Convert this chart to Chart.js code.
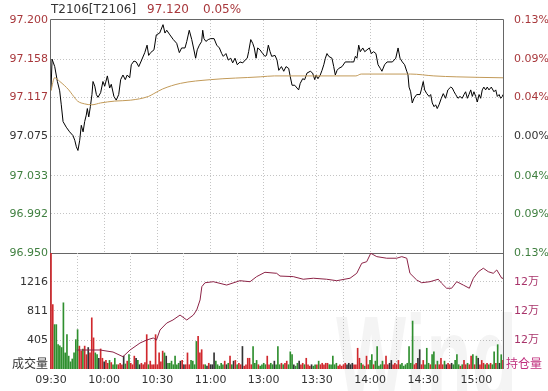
<!DOCTYPE html>
<html>
<head>
<meta charset="utf-8">
<script src="https://cdn.jsdelivr.net/npm/chart.js@4.4.0/dist/chart.umd.min.js"></script>
<style>
  body { margin: 0; background: #fff; width: 548px; height: 391px; overflow: hidden; position: relative; }
  canvas { position: absolute; left: 0; }
  #priceChart { top: 0; }
  #volChart { top: 240px; }
  .txt { position: absolute; font: 12px "DejaVu Sans", "Noto Sans CJK SC", sans-serif; line-height: 16px; white-space: nowrap; }
</style>
</head>
<body>
<canvas id="priceChart" width="548" height="270" style="width:548px;height:270px"></canvas>
<canvas id="volChart" width="548" height="151" style="width:548px;height:151px"></canvas>
<div class="txt" style="left:51px;top:1px;color:#333">T2106[T2106]</div>
<div class="txt" style="left:147px;top:1px;color:#a8383c">97.120</div>
<div class="txt" style="left:203px;top:1px;color:#a8383c">0.05%</div>
<div class="txt" style="left:0;width:48px;text-align:right;top:355px;color:#333;font-family:'Noto Sans CJK SC'">成交量</div>
<div class="txt" style="left:506px;top:355px;color:#c0307e;font-family:'Noto Sans CJK SC'">持仓量</div>
<script>
// minutes since 09:30 (11:30 and 13:00 share one slot)
const timeTicks = [0, 30, 60, 90, 120, 150, 180, 210, 240];
const timeLabels = ['09:30', '10:00', '10:30', '11:00', '13:00', '13:30', '14:00', '14:30', '15:00'];
const preClose = 97.075;
const priceTicks = [96.950, 96.992, 97.033, 97.075, 97.117, 97.158, 97.200];

// [minute, price]
const pricePoints = [
  [0,97.125],[0.6,97.158],[2.1,97.150],[3.6,97.134],[4.9,97.124],[5.8,97.109],[6.8,97.091],[8.6,97.085],
  [10.5,97.080],[12.4,97.076],[13.4,97.071],[14.3,97.064],[15.2,97.060],[16.2,97.071],[17.1,97.087],[18.1,97.080],
  [19,97.091],[19.9,97.098],[20.5,97.105],[21.3,97.096],[22.2,97.107],[23.1,97.120],[23.7,97.134],[24.7,97.129],
  [25.6,97.120],[26.5,97.117],[28,97.122],[29.3,97.134],[30.3,97.129],[31.8,97.140],[33.1,97.127],[34,97.131],
  [35.5,97.118],[36.8,97.114],[38.2,97.120],[39.3,97.136],[40.6,97.141],[41.9,97.136],[43,97.141],[44.4,97.138],
  [45.3,97.152],[46.8,97.156],[48.1,97.155],[49.5,97.150],[50.9,97.156],[52.9,97.165],[54.2,97.173],[55.1,97.162],
  [56.2,97.165],[58.1,97.168],[59.4,97.184],[61.3,97.186],[63.2,97.195],[64.3,97.186],[65.3,97.189],[67.1,97.184],
  [69,97.179],[70.9,97.175],[72.4,97.165],[73.7,97.170],[75.6,97.170],[76.6,97.177],[78,97.189],[79.4,97.179],
  [80.3,97.171],[81.6,97.159],[82.5,97.168],[83.7,97.173],[85,97.177],[85.6,97.189],[86.3,97.180],[87.4,97.177],
  [88.7,97.179],[90.1,97.180],[92,97.180],[93.5,97.173],[95,97.170],[96.3,97.164],[97.2,97.161],[98.7,97.164],
  [100,97.157],[101.4,97.159],[102.5,97.154],[103.8,97.159],[105.1,97.152],[106.6,97.155],[108.2,97.154],[109.5,97.157],
  [110.7,97.159],[111.5,97.166],[112.7,97.179],[113.8,97.175],[114.7,97.170],[115.7,97.159],[116.6,97.170],[117.9,97.168],
  [119.4,97.164],[120.7,97.161],[121.6,97.162],[122.6,97.173],[123.6,97.166],[124.5,97.161],[126.4,97.162],[127.5,97.157],
  [128.5,97.146],[130,97.150],[131.3,97.145],[132.6,97.150],[134.1,97.148],[135,97.139],[136,97.130],[137.5,97.130],
  [138.8,97.127],[139.7,97.125],[140.6,97.132],[142,97.137],[143.1,97.136],[144.4,97.143],[146.3,97.145],[147.6,97.143],
  [148.8,97.136],[149.5,97.141],[150.6,97.137],[151.9,97.141],[152.9,97.146],[153.9,97.152],[154.8,97.159],[155.7,97.164],
  [156.7,97.161],[158.5,97.159],[159.5,97.150],[160.4,97.141],[161.4,97.146],[162.3,97.148],[164.2,97.150],[166,97.155],
  [168.9,97.155],[170.8,97.155],[171.7,97.161],[172.6,97.159],[173.6,97.173],[174.5,97.166],[175.9,97.170],[177,97.166],
  [178.3,97.168],[179.6,97.170],[180.7,97.164],[182,97.166],[183.3,97.164],[184.5,97.152],[185.8,97.148],[186.7,97.145],
  [188.2,97.152],[189.6,97.155],[192.6,97.155],[194.5,97.159],[195.8,97.170],[196.9,97.159],[198.2,97.155],[199.5,97.152],
  [200.7,97.145],[201.4,97.141],[202,97.128],[202.9,97.123],[203.8,97.111],[204.8,97.116],[206.3,97.120],[208.2,97.120],
  [208.9,97.125],[210,97.134],[210.8,97.125],[212,97.121],[213.3,97.118],[214.2,97.120],[215.1,97.111],[216.1,97.107],
  [217,97.109],[217.9,97.105],[218.9,97.109],[220.2,97.116],[221.3,97.121],[222.6,97.116],[223.9,97.125],[225.5,97.128],
  [226.4,97.127],[227.4,97.123],[228.3,97.120],[229.6,97.116],[230.7,97.118],[232,97.116],[233,97.120],[233.9,97.123],
  [234.9,97.116],[235.8,97.120],[236.8,97.125],[237.7,97.118],[238.6,97.123],[239.6,97.118],[240.5,97.112],[241.5,97.120],
  [242.4,97.116],[243.3,97.125],[244.2,97.128],[245.2,97.125],[246.1,97.128],[247.1,97.125],[248.4,97.128],[249.9,97.123],
  [250.9,97.125],[251.8,97.118],[252.8,97.120],[253.7,97.116],[254.6,97.118],[255,97.120]
];

// [minute, average price]
const avgPoints = [
  [0,97.124],[2,97.138],[5,97.134],[10,97.125],[12,97.120],[15,97.113],[19,97.110],[23,97.109],[28,97.111],
  [36,97.113],[45,97.114],[55,97.118],[58,97.121],[63,97.126],[73,97.132],[90,97.136],[118,97.139],[126,97.140],
  [150,97.140],[172,97.140],[175,97.142],[188,97.142],[203,97.142],[216,97.140],[229,97.139],[255,97.138]
];

// one bar per minute
const volumes = [
  1700,900,620,620,340,325,300,925,225,480,180,100,140,225,410,550,
  320,250,280,320,200,300,225,715,435,225,200,150,280,150,100,120,
  80,120,90,60,150,60,60,80,60,180,70,110,200,80,60,180,
  150,120,60,80,60,90,480,60,110,60,60,480,60,225,100,250,
  225,180,80,80,110,60,180,60,80,110,120,60,60,225,60,120,
  110,60,385,455,225,270,60,60,40,80,60,60,225,110,60,40,
  80,60,110,60,80,180,60,110,120,60,80,60,315,40,60,150,
  150,60,315,80,120,60,40,60,80,60,180,60,80,60,110,60,
  315,60,80,60,80,110,60,240,200,60,40,80,110,60,80,60,
  150,60,40,60,40,60,60,110,60,80,60,80,80,60,60,180,
  60,80,40,60,40,60,80,60,80,60,80,60,60,290,150,80,
  60,40,180,60,120,200,60,110,315,40,60,110,60,180,60,80,
  120,60,80,60,120,60,80,40,60,80,315,80,670,60,80,150,
  270,60,120,60,290,80,60,200,240,60,110,60,150,60,110,60,
  80,60,80,60,120,200,60,40,60,120,60,80,60,180,200,60,
  180,150,60,120,80,60,80,60,80,60,240,80,340,80,200,120
];
const volTicks = [405, 811, 1216];

// [minute, open interest]
const holdPoints = [
  [14.5,120310],[27.6,120310],[35,120170],[40.6,119850],[44.6,120310],[50.2,120790],[54,121000],[57.7,121140],
  [59.5,121000],[61.5,121690],[65.3,122170],[68.8,122380],[72.8,122720],[76.6,122380],[80.3,122720],[82.2,123070],
  [84.1,123760],[85.1,124680],[86.9,124950],[91.6,125020],[99.1,124790],[106.6,125090],[112.3,125020],[116,125370],
  [120.7,125670],[127.3,125600],[129.2,125410],[136.7,125370],[142.3,125190],[148,125260],[155.5,125190],[161.2,125090],
  [168.7,125260],[172.5,125600],[175.3,126290],[178.1,126400],[180.4,126980],[183.8,126750],[189.4,126640],[195,126640],
  [197.9,126750],[200.7,126640],[202.5,125600],[206.3,125140],[209.1,124950],[213.8,125020],[218.5,125190],[220.4,124910],
  [223.2,124570],[226,124570],[228.9,125020],[232.6,124790],[236,124570],[238.3,125260],[241.1,125710],[243.9,125950],
  [246.7,125710],[249.5,125600],[251.5,125830],[254.3,125260],[255,125260]
];
const holdTicks = [121000, 123000, 125000];

const red = '#a8383c', green = '#3f7f3f', dark = '#333';
const gridColor = '#c4c4c4';
const tickFont = { family: 'DejaVu Sans', size: 11 };

// bar colour follows the price move of that minute
function priceAt(m) {
  for (let i = 1; i < pricePoints.length; i++) {
    const [x1, y1] = pricePoints[i - 1], [x2, y2] = pricePoints[i];
    if (m <= x2) return y1 + (y2 - y1) * (m - x1) / (x2 - x1);
  }
  return pricePoints[pricePoints.length - 1][1];
}
const volColors = volumes.map((v, i) => {
  if (i === 0) return '#d0282d';
  const d = priceAt(i) - priceAt(i - 1);
  return d > 0.0008 ? '#d0282d' : d < -0.0008 ? '#2f8f2f' : '#333';
});

const frameA = {
  id: 'frameA',
  beforeDatasetsDraw(chart) {
    const { ctx, chartArea: a } = chart;
    ctx.save();
    ctx.strokeStyle = '#666';
    ctx.lineWidth = 1;
    ctx.beginPath();
    ctx.moveTo(a.left - 0.5, a.bottom + 1);
    ctx.lineTo(a.left - 0.5, a.top - 0.5);
    ctx.lineTo(a.right + 0.5, a.top - 0.5);
    ctx.lineTo(a.right + 0.5, a.bottom + 1);
    ctx.moveTo(a.left - 0.5, a.bottom + 0.5);
    ctx.lineTo(a.right + 0.5, a.bottom + 0.5);
    ctx.stroke();
    ctx.restore();
  }
};

const frameB = {
  id: 'frameB',
  beforeDatasetsDraw(chart) {
    const { ctx, chartArea: a } = chart;
    ctx.save();
    // Wind watermark
    ctx.fillStyle = 'rgba(0,0,0,0.045)';
    ctx.font = 'bold 120px "Liberation Sans"';
    ctx.translate(336, 160);
    ctx.scale(0.62, 1);
    ctx.fillText('Wind', 0, 0);
    ctx.restore();
    ctx.save();
    ctx.strokeStyle = '#666';
    ctx.lineWidth = 1;
    ctx.beginPath();
    ctx.moveTo(a.left - 0.5, a.top);
    ctx.lineTo(a.left - 0.5, a.bottom);
    ctx.moveTo(a.right + 0.5, a.top);
    ctx.lineTo(a.right + 0.5, a.bottom);
    ctx.stroke();
    ctx.restore();
  }
};

const xScale = (showLabels) => ({
  type: 'linear',
  min: 0,
  max: 255,
  offset: false,
  afterBuildTicks: s => { s.ticks = timeTicks.map(v => ({ value: v })); },
  afterFit: s => { s.height = showLabels ? 22 : 0; },
  ticks: {
    display: showLabels,
    autoSkip: false,
    maxRotation: 0,
    padding: 5,
    color: dark,
    font: tickFont,
    callback: v => timeLabels[timeTicks.indexOf(v)]
  },
  grid: { drawTicks: false, color: c => (c.tick && c.tick.value === 0) ? 'transparent' : gridColor },
  border: { display: false, dash: [1, 2] }
});

new Chart(document.getElementById('priceChart'), {
  type: 'line',
  data: {
    datasets: [
      {
        data: avgPoints.map(([x, y]) => ({ x, y })),
        borderColor: '#c29a58',
        borderWidth: 1,
        pointRadius: 0,
        cubicInterpolationMode: 'monotone'
      },
      {
        data: pricePoints.map(([x, y]) => ({ x, y })),
        borderColor: '#000',
        borderWidth: 1,
        pointRadius: 0,
        tension: 0
      }
    ]
  },
  options: {
    responsive: false,
    animation: false,
    devicePixelRatio: 1,
    layout: { padding: { top: 20, bottom: 17, left: 0, right: 0 } },
    plugins: { legend: { display: false }, tooltip: { enabled: false } },
    scales: {
      x: xScale(false),
      y: {
        position: 'left',
        min: 96.950,
        max: 97.200,
        afterBuildTicks: s => { s.ticks = priceTicks.map(v => ({ value: v })); },
        afterFit: s => { s.width = 51; },
        ticks: {
          font: tickFont,
          padding: 3,
          callback: v => v.toFixed(3),
          color: c => c.tick.value > preClose + 1e-6 ? red : (c.tick.value < preClose - 1e-6 ? green : dark)
        },
        grid: {
          drawTicks: false,
          color: c => (c.tick && (c.tick.value === 96.950 || c.tick.value === 97.200)) ? 'transparent' : gridColor
        },
        border: { display: false, dash: [1, 2] }
      },
      yPct: {
        position: 'right',
        min: 96.950,
        max: 97.200,
        afterBuildTicks: s => { s.ticks = priceTicks.map(v => ({ value: v })); },
        afterFit: s => { s.width = 45; },
        ticks: {
          font: tickFont,
          padding: 3,
          callback: v => (Math.abs(v - preClose) / preClose * 100).toFixed(2) + '%',
          color: c => c.tick.value > preClose + 1e-6 ? red : (c.tick.value < preClose - 1e-6 ? green : dark)
        },
        grid: { display: false },
        border: { display: false }
      }
    }
  },
  plugins: [frameA]
});

new Chart(document.getElementById('volChart'), {
  type: 'bar',
  data: {
    datasets: [
      {
        type: 'line',
        data: holdPoints.map(([x, y]) => ({ x, y })),
        yAxisID: 'yHold',
        borderColor: '#8c2346',
        borderWidth: 1,
        pointRadius: 0,
        order: 1
      },
      {
        type: 'bar',
        data: volumes.map((v, i) => ({ x: i, y: v })),
        yAxisID: 'yVol',
        backgroundColor: volColors,
        barThickness: 1,
        clip: { left: 2, top: 0, right: 0, bottom: 0 },
        order: 2
      }
    ]
  },
  options: {
    responsive: false,
    animation: false,
    devicePixelRatio: 1,
    layout: { padding: { top: 13, bottom: 0, left: 0, right: 0 } },
    plugins: { legend: { display: false }, tooltip: { enabled: false } },
    scales: {
      x: xScale(true),
      yVol: {
        position: 'left',
        min: 0,
        max: 1621,
        afterBuildTicks: s => { s.ticks = volTicks.map(v => ({ value: v })); },
        afterFit: s => { s.width = 51; },
        ticks: { font: tickFont, padding: 3, color: dark, callback: v => String(v) },
        grid: { drawTicks: false, color: gridColor },
        border: { display: false, dash: [1, 2] }
      },
      yHold: {
        position: 'right',
        min: 119000,
        max: 127000,
        afterBuildTicks: s => { s.ticks = holdTicks.map(v => ({ value: v })); },
        afterFit: s => { s.width = 45; },
        ticks: {
          font: { family: 'DejaVu Sans, Noto Sans CJK SC', size: 11 },
          padding: 3,
          color: '#a8336a',
          callback: v => Math.floor(v / 10000) + '万'
        },
        grid: { display: false },
        border: { display: false }
      }
    }
  },
  plugins: [frameB]
});
</script>
</body>
</html>
